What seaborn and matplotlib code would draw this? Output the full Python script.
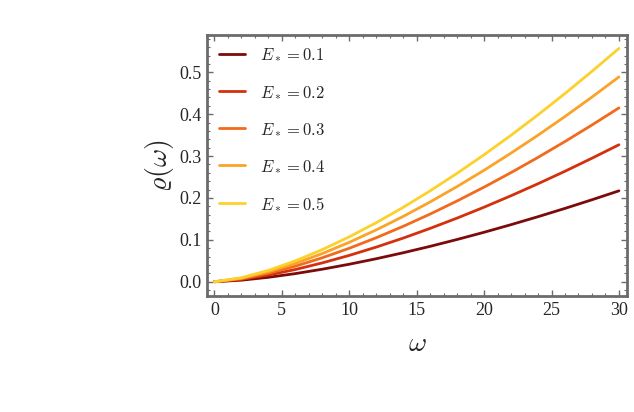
import matplotlib
matplotlib.use("Agg")
import matplotlib.pyplot as plt
from matplotlib.ticker import MultipleLocator
import numpy as np
import pandas as pd
import seaborn as sns

# values
omega = [0, 2, 4, 6, 8, 10, 12, 14, 16, 18, 20, 22, 24, 26, 28, 30]
rho_01 = [0.0, 0.0037, 0.0106, 0.0194, 0.0299, 0.0418, 0.0549, 0.0692, 0.0845, 0.1009,
          0.1181, 0.1363, 0.1553, 0.1751, 0.1957, 0.217]
rho_02 = [0.0, 0.0056, 0.0159, 0.0292, 0.0450, 0.0629, 0.0827, 0.1042, 0.1274, 0.1520,
          0.1780, 0.2054, 0.2340, 0.2638, 0.2949, 0.327]
rho_03 = [0.0, 0.0071, 0.0202, 0.0371, 0.0572, 0.0799, 0.1050, 0.1323, 0.1616, 0.1929,
          0.2259, 0.2606, 0.2969, 0.3348, 0.3742, 0.415]
rho_04 = [0.0, 0.0084, 0.0238, 0.0437, 0.0673, 0.0941, 0.1237, 0.1559, 0.1905, 0.2273,
          0.2662, 0.3071, 0.3499, 0.3945, 0.4409, 0.489]
rho_05 = [0.0, 0.0096, 0.0271, 0.0498, 0.0767, 0.1072, 0.1409, 0.1776, 0.2170, 0.2589,
          0.3032, 0.3498, 0.3985, 0.4494, 0.5023, 0.557]
labels = [r"$E_* = 0.1$", r"$E_* = 0.2$", r"$E_* = 0.3$", r"$E_* = 0.4$", r"$E_* = 0.5$"]
colors = ["#7d0a0a", "#d3300d", "#f26a1c", "#fba327", "#fdd12b"]

frames = []
for lab, vals in zip(labels, [rho_01, rho_02, rho_03, rho_04, rho_05]):
    frames.append(pd.DataFrame({"omega": omega, "rho": vals, "E": lab}))
df = pd.concat(frames, ignore_index=True)

sns.set_style("ticks")
plt.rcParams["font.family"] = ["Liberation Serif", "DejaVu Serif"]
plt.rcParams["mathtext.fontset"] = "cm"

fig = plt.figure(figsize=(6.34, 4.12), dpi=100)
ax = fig.add_axes([0.3265, 0.2816, 0.6625, 0.6334])

sns.lineplot(data=df, x="omega", y="rho", hue="E", palette=colors, linewidth=2.0, ax=ax)

ax.set_xlim(-0.55, 30.6)
ax.set_ylim(-0.034, 0.589)
ax.xaxis.set_major_locator(MultipleLocator(5))
ax.xaxis.set_minor_locator(MultipleLocator(1))
ax.yaxis.set_major_locator(MultipleLocator(0.1))
ax.yaxis.set_minor_locator(MultipleLocator(0.02))
ax.yaxis.set_major_formatter(matplotlib.ticker.FormatStrFormatter("%.1f"))

frame_col = "#6b6b6b"
for s in ax.spines.values():
    s.set_color(frame_col)
    s.set_linewidth(2.0)
ax.tick_params(which="both", direction="in", top=True, right=True, color=frame_col)
ax.tick_params(which="major", length=4, width=1.0, labelsize=13, pad=4)
ax.tick_params(which="minor", length=2.5, width=0.8)

ax.set_xlabel(r"$\omega$", fontsize=20, labelpad=10)
ax.set_ylabel(r"$\varrho(\omega)$", fontsize=20, labelpad=2)

leg = ax.legend(loc="upper left", frameon=False, fontsize=12, handlelength=1.55,
                labelspacing=1.22, handletextpad=0.9, borderaxespad=0.3)

fig.savefig("out.png", dpi=100)
